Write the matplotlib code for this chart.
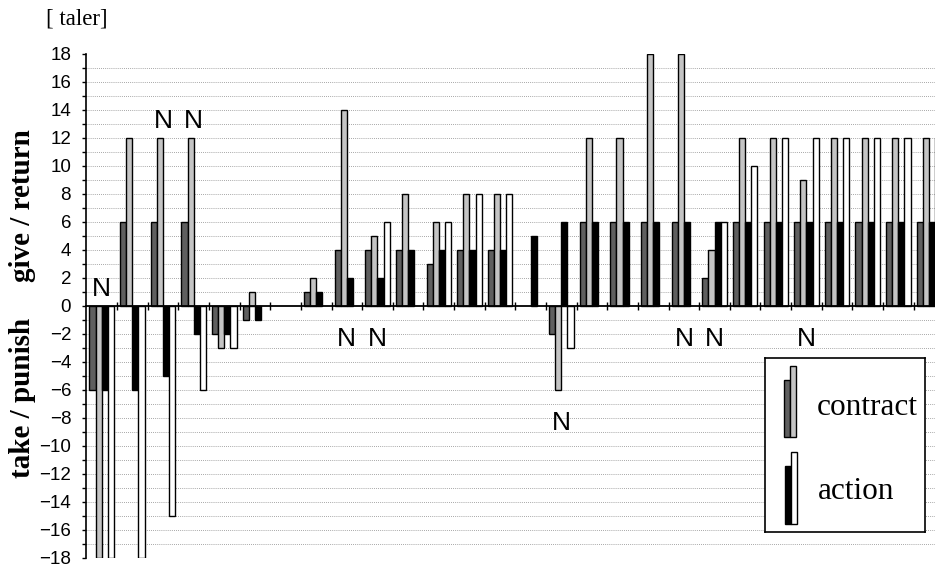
import matplotlib
matplotlib.use('Agg')
import matplotlib.pyplot as plt
from matplotlib.patches import Rectangle
import numpy as np

# taler per pair, 4 bars per pair: contract (two players) and action (two players)
contract_p1 = [-6, 6, 6, 6, -2, -1, 0, 1, 4, 4, 4, 3, 4, 4,
               0, -2, 6, 6, 6, 6, 2, 6, 6, 6, 6, 6, 6, 6]
contract_p2 = [-18, 12, 12, 12, -3, 1, 0, 2, 14, 5, 8, 6, 8, 8,
               0, -6, 12, 12, 18, 18, 4, 12, 12, 9, 12, 12, 12, 12]
action_p1 = [-6, -6, -5, -2, -2, -1, 0, 1, 2, 2, 4, 4, 4, 4,
             5, 6, 6, 6, 6, 6, 6, 6, 6, 6, 6, 6, 6, 6]
action_p2 = [-18, -18, -15, -6, -3, 0, 0, 0, 0, 6, 0, 6, 8, 8,
             0, -3, 0, 0, 0, 0, 6, 10, 12, 12, 12, 12, 12, 12]
# pairs marked "N" (1-based) and whether the mark sits above or below
n_pairs = [1, 3, 4, 9, 10, 16, 20, 21, 24]
n_side = ['above', 'above', 'above', 'below', 'below', 'below', 'below', 'below', 'below']

W, H = 935, 570
fig = plt.figure(figsize=(W / 100, H / 100), dpi=100)
ax = fig.add_axes([86.4 / W, 1 - 557.7 / H, (W - 86.4) / W, 504 / H])

ng = len(contract_p1)
idx = np.arange(ng)
bw = 0.2
series = [(contract_p1, '#5f5f5f'), (contract_p2, '#c4c4c4'),
          (action_p1, 'black'), (action_p2, 'white')]
for k, (vals, col) in enumerate(series):
    v = np.array(vals, dtype=float)
    m = v != 0
    ax.bar(idx[m] + 0.2 + 0.2 * k, v[m], bw, color=col, edgecolor='black',
           linewidth=1.0, zorder=3)

# dotted grid
for yy in range(-17, 18):
    if yy != 0:
        ax.axhline(yy, color='#8a8a8a', linestyle=(0, (1, 1.5)), linewidth=0.6, zorder=1)

ax.set_xlim(0, (W - 86.4) / 30.64)
ax.set_ylim(-18, 18)

ax.spines['top'].set_visible(False)
ax.spines['right'].set_visible(False)
ax.spines['bottom'].set_position(('data', 0))
ax.spines['bottom'].set_linewidth(1.3)
ax.spines['bottom'].set_zorder(4)
ax.spines['left'].set_linewidth(1.2)

ax.set_xticks(np.arange(1, ng))
ax.set_xticklabels([])
ax.tick_params(axis='x', direction='inout', length=6, width=1.0)
ax.set_yticks(np.arange(-18, 19, 2))
ax.set_yticks(np.arange(-18, 19, 1), minor=True)
ax.tick_params(axis='y', which='both', direction='out', length=3, width=1.0, pad=8)
for lab in ax.get_yticklabels():
    lab.set_fontfamily('Liberation Sans')
    lab.set_fontsize(13.5)

# N marks
allv = np.array([contract_p1, contract_p2, action_p1, action_p2])
for g, side in zip(n_pairs, n_side):
    col = allv[:, g - 1]
    if side == 'above':
        yb = max(0, col.max()) + 0.72
    else:
        yb = min(0, col.min()) - 2.9
    ax.text(g - 0.5, yb, 'N', ha='center', va='baseline', fontsize=19,
            family='Liberation Sans', zorder=5)

# labels
fig.text(23 / W, 1 - 206 / H, 'give / return', rotation=90, ha='center', va='center',
         fontsize=21, fontweight='bold', family='Liberation Serif')
fig.text(23 / W, 1 - 398 / H, 'take / punish', rotation=90, ha='center', va='center',
         fontsize=21, fontweight='bold', family='Liberation Serif')
fig.text(77 / W, 1 - 19 / H, '[ taler]', ha='center', va='center',
         fontsize=16.5, family='Liberation Serif')

# legend box (pixel coords)
lx0, ly0, lx1, ly1 = 765, 358.3, 925, 531.7
lg = fig.add_axes([lx0 / W, 1 - ly1 / H, (lx1 - lx0) / W, (ly1 - ly0) / H])
lg.set_xlim(lx0, lx1)
lg.set_ylim(ly1, ly0)
lg.set_xticks([])
lg.set_yticks([])
for s in lg.spines.values():
    s.set_linewidth(1.2)
lg.set_zorder(10)
lg.add_patch(Rectangle((784, 380), 6, 57, facecolor='#5f5f5f', edgecolor='black', lw=1.0))
lg.add_patch(Rectangle((790, 366), 6, 71, facecolor='#c4c4c4', edgecolor='black', lw=1.0))
lg.add_patch(Rectangle((785, 466), 6, 58, facecolor='black', edgecolor='black', lw=1.0))
lg.add_patch(Rectangle((791, 452), 6, 72, facecolor='white', edgecolor='black', lw=1.0))
lg.text(817, 408, 'contract', ha='left', va='center', fontsize=22.5, family='Liberation Serif')
lg.text(818, 492, 'action', ha='left', va='center', fontsize=22.5, family='Liberation Serif')

fig.savefig('out.png', dpi=100)
